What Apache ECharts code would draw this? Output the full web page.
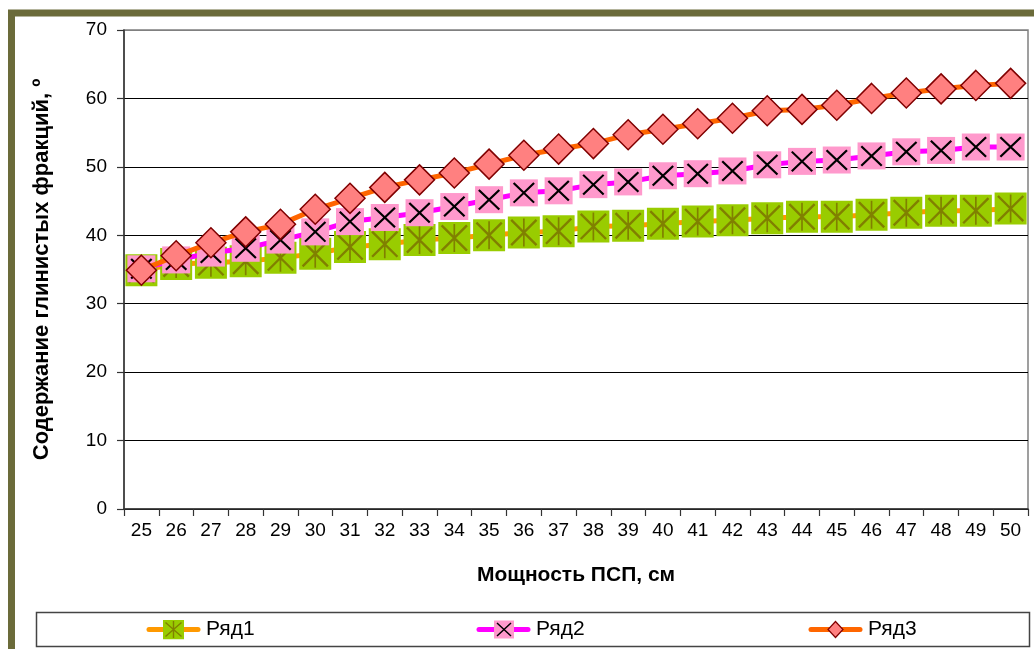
<!DOCTYPE html>
<html>
<head>
<meta charset="utf-8">
<script src="https://cdn.jsdelivr.net/npm/echarts@6/dist/echarts.min.js"></script>
<style>
html,body{margin:0;padding:0;background:#fff;}
#main{width:1034px;height:649px;}
</style>
</head>
<body>
<div id="main"></div>
<script>
// ---- data ----
var categories = ['25','26','27','28','29','30','31','32','33','34','35','36','37','38','39','40','41','42','43','44','45','46','47','48','49','50'];
var seriesNames = ['Ряд1','Ряд2','Ряд3'];
var ryad1 = [34.9, 35.8, 36.0, 36.2, 36.7, 37.3, 38.3, 38.7, 39.3, 39.6, 40.0, 40.4, 40.6, 41.3, 41.4, 41.7, 42.0, 42.2, 42.5, 42.7, 42.7, 43.0, 43.3, 43.6, 43.6, 43.9];
var ryad2 = [35.1, 36.4, 37.4, 38.1, 39.3, 40.5, 42.0, 42.6, 43.3, 44.2, 45.2, 46.2, 46.5, 47.4, 47.8, 48.7, 49.0, 49.4, 50.3, 50.8, 51.0, 51.6, 52.2, 52.4, 52.9, 52.9];
var ryad3 = [34.9, 37.0, 38.9, 40.5, 41.6, 43.8, 45.4, 47.0, 48.1, 49.1, 50.4, 51.7, 52.6, 53.4, 54.7, 55.5, 56.3, 57.1, 58.2, 58.4, 59.0, 60.0, 60.8, 61.4, 61.9, 62.2];
var yTicks = {min: 0, max: 70, interval: 10};
var xTitle = 'Мощность ПСП, см';
var yTitle = 'Содержание глинистых фракций, º';

var FONT = '"Liberation Sans", Arial, sans-serif';

var pathX = 'path://M0,7 L7,0 L100,93 L93,100 Z M93,0 L100,7 L7,100 L0,93 Z';
var pathAst = 'path://M2,8 L8,2 L98,92 L92,98 Z M92,2 L98,8 L8,98 L2,92 Z M47,0 L53,0 L53,100 L47,100 Z';

function svgIcon(inner, lineColor) {
  var s = "<svg xmlns='http://www.w3.org/2000/svg' width='55' height='20' viewBox='0 0 55 20'>" +
    "<line x1='3' y1='10' x2='52' y2='10' stroke='" + lineColor + "' stroke-width='5' stroke-linecap='round'/>" +
    inner + "</svg>";
  return 'image://data:image/svg+xml;charset=utf-8,' + encodeURIComponent(s);
}
var icon1 = svgIcon("<rect x='17' y='0' width='21' height='20' fill='#99CC00'/><path d='M27.5 1.5V18.5M19.5 3L35.5 17M35.5 3L19.5 17' stroke='#808000' stroke-width='1.4' fill='none'/>", '#FF9900');
var icon2 = svgIcon("<rect x='18' y='1' width='20' height='18' fill='#FF99CC'/><path d='M21 3.5L35 16.5M35 3.5L21 16.5' stroke='#000' stroke-width='1.5' fill='none'/>", '#FF00FF');
var icon3 = svgIcon("<polygon points='27.5,2 35,10 27.5,18 20,10' fill='#FF8080' stroke='#800000' stroke-width='1.2'/>", '#FF6600');

function mkLegend(name, icon, left) {
  return {
    data: [{name: name, icon: icon}],
    left: left, top: 619, padding: 0,
    itemWidth: 55, itemHeight: 20, itemGap: 0,
    selectedMode: false,
    textStyle: {fontFamily: FONT, fontSize: 21, color: '#000', padding: [0,0,0,0]}
  };
}

var chart = echarts.init(document.getElementById('main'), null, {renderer: 'canvas'});
chart.setOption({
  animation: false,
  backgroundColor: '#fff',
  textStyle: {fontFamily: FONT},
  graphic: [
    {type: 'rect', z: -10, shape: {x: 11.5, y: 13, width: 1200, height: 1000},
     style: {fill: null, stroke: '#6B6B3A', lineWidth: 7}},
    {type: 'rect', z: -5, shape: {x: 36.5, y: 612.5, width: 993, height: 34},
     style: {fill: '#fff', stroke: '#444', lineWidth: 1.5}}
  ],
  legend: [
    mkLegend(seriesNames[0], icon1, 146),
    mkLegend(seriesNames[1], icon2, 476),
    mkLegend(seriesNames[2], icon3, 808)
  ],
  grid: {left: 124, right: 6, top: 30, bottom: 140, show: true, borderColor: '#808080', borderWidth: 1.5, backgroundColor: 'transparent'},
  xAxis: {
    type: 'category', data: categories, boundaryGap: true,
    name: xTitle, nameLocation: 'middle', nameGap: 56,
    nameTextStyle: {fontFamily: FONT, fontSize: 21, fontWeight: 'bold', color: '#000'},
    axisLine: {lineStyle: {color: '#333', width: 1.5}},
    axisTick: {show: true, interval: 0, length: 7, lineStyle: {color: '#333', width: 1.2}},
    axisLabel: {interval: 0, fontSize: 19, color: '#000', fontFamily: FONT, margin: 12},
    splitLine: {show: false}
  },
  yAxis: {
    type: 'value', min: yTicks.min, max: yTicks.max, interval: yTicks.interval,
    name: yTitle, nameLocation: 'middle', nameGap: 71, nameRotate: 90,
    nameTextStyle: {fontFamily: FONT, fontSize: 22, fontWeight: 'bold', color: '#000'},
    axisLine: {show: true, lineStyle: {color: '#333', width: 1.5}},
    axisTick: {show: true, length: 7, lineStyle: {color: '#333', width: 1.2}},
    axisLabel: {fontSize: 19, color: '#000', fontFamily: FONT, margin: 17},
    splitLine: {show: true, lineStyle: {color: ['#000','#000','#000','#000','#000','#000','#000','#808080'], width: 1}}
  },
  series: [
    {name: seriesNames[0], type: 'line', z: 3, data: ryad1, symbol: 'rect', symbolSize: 32,
     showSymbol: true, showAllSymbol: true,
     lineStyle: {color: '#FF9900', width: 5}, itemStyle: {color: '#99CC00', borderWidth: 0}},
    {name: '_a1', type: 'scatter', z: 4, data: ryad1, symbol: pathAst, symbolSize: [27, 28], silent: true,
     itemStyle: {color: '#808000', opacity: 1}},
    {name: seriesNames[1], type: 'line', z: 5, data: ryad2, symbol: 'rect', symbolSize: [28, 27],
     showSymbol: true, showAllSymbol: true,
     lineStyle: {color: '#FF00FF', width: 5}, itemStyle: {color: '#FF99CC', borderWidth: 0}},
    {name: '_a2', type: 'scatter', z: 6, data: ryad2, symbol: pathX, symbolSize: [22, 21], silent: true,
     itemStyle: {color: '#000', opacity: 1}},
    {name: seriesNames[2], type: 'line', z: 7, data: ryad3, symbol: 'diamond', symbolSize: 30,
     showSymbol: true, showAllSymbol: true,
     lineStyle: {color: '#FF6600', width: 5},
     itemStyle: {color: '#FF8080', borderColor: '#800000', borderWidth: 1.5}}
  ]
});
</script>
</body>
</html>
